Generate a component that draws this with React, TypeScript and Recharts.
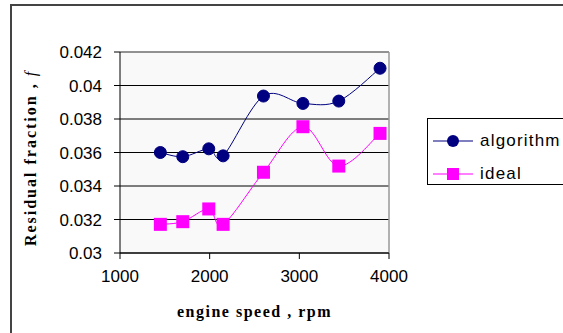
import React from "react";
import {
  LineChart,
  Line,
  XAxis,
  YAxis,
  CartesianGrid,
  ReferenceLine,
  Legend,
  Label,
} from "recharts";

// engine speed (rpm) and residual fraction
const rpm = [1450, 1700, 1990, 2150, 2600, 3040, 3440, 3900];
const algorithm = [0.036, 0.03575, 0.03622, 0.0358, 0.03937, 0.03893, 0.03907, 0.04103];
const ideal = [0.03171, 0.03187, 0.03263, 0.03171, 0.03482, 0.03754, 0.03519, 0.03714];

const xTicks = [1000, 2000, 3000, 4000];
const yTicks = [0.03, 0.032, 0.034, 0.036, 0.038, 0.04, 0.042];

const NAVY = "#000080";
const MAGENTA = "#ff00ff";
const TICK_FONT = "'Liberation Sans', Arial, sans-serif";
const LABEL_FONT = "'Liberation Serif', 'Times New Roman', serif";

const data = rpm.map((r, i) => ({ rpm: r, algorithm: algorithm[i], ideal: ideal[i] }));

// Excel-style smoothed line (Catmull-Rom through the points)
function excelSmooth(ctx: any) {
  let pts: number[][] = [];
  return {
    areaStart() {},
    areaEnd() {},
    lineStart() {
      pts = [];
    },
    point(x: number, y: number) {
      pts.push([+x, +y]);
    },
    lineEnd() {
      if (!pts.length) return;
      ctx.moveTo(pts[0][0], pts[0][1]);
      const k = 1 / 6;
      for (let i = 0; i < pts.length - 1; i++) {
        const p0 = pts[Math.max(i - 1, 0)];
        const p1 = pts[i];
        const p2 = pts[i + 1];
        const p3 = pts[Math.min(i + 2, pts.length - 1)];
        ctx.bezierCurveTo(
          p1[0] + (p2[0] - p0[0]) * k,
          p1[1] + (p2[1] - p0[1]) * k,
          p2[0] - (p3[0] - p1[0]) * k,
          p2[1] - (p3[1] - p1[1]) * k,
          p2[0],
          p2[1]
        );
      }
    },
  };
}

const CircleDot = (props: any) => {
  const { cx, cy, index } = props;
  if (cx == null || cy == null) return <g key={`c-${index}`} />;
  return <circle key={`c-${index}`} cx={cx} cy={cy} r={6} fill={NAVY} stroke={NAVY} />;
};

const SquareDot = (props: any) => {
  const { cx, cy, index } = props;
  if (cx == null || cy == null) return <g key={`s-${index}`} />;
  return <rect key={`s-${index}`} x={cx - 6.5} y={cy - 6.5} width={13} height={13} fill={MAGENTA} />;
};

function LegendBox() {
  const rows = [
    { name: "algorithm", color: NAVY, shape: "circle" },
    { name: "ideal", color: MAGENTA, shape: "square" },
  ];
  return (
    <div
      style={{
        width: 150,
        height: 67,
        border: "1px solid #000",
        background: "#fff",
        boxSizing: "border-box",
        paddingTop: 5,
      }}
    >
      {rows.map((r) => (
        <div key={r.name} style={{ display: "flex", alignItems: "center", height: 33 }}>
          <svg width={48} height={16} style={{ marginLeft: 5 }}>
            <line x1={0} y1={8} x2={40} y2={8} stroke={r.color} strokeWidth={1.2} />
            {r.shape === "circle" ? (
              <circle cx={20} cy={8} r={6} fill={r.color} />
            ) : (
              <rect x={14} y={2} width={12} height={12} fill={r.color} />
            )}
          </svg>
          <span
            style={{
              fontFamily: TICK_FONT,
              fontSize: 17,
              letterSpacing: 1.2,
              color: "#000",
              marginLeft: -1,
            }}
          >
            {r.name}
          </span>
        </div>
      ))}
    </div>
  );
}

export default function App() {
  return (
    <div
      style={{
        position: "absolute",
        left: 0,
        top: 0,
        width: 563,
        height: 333,
        overflow: "hidden",
        background: "#fff",
      }}
    >
      <div
        style={{
          position: "absolute",
          left: 10,
          top: 4,
          width: 600,
          height: 327,
          borderTop: "2px solid #444",
          borderLeft: "2px solid #444",
          borderBottom: "1px solid #ccc",
        }}
      />
      <div style={{ position: "absolute", left: 0, top: 0 }}>
        <LineChart
          width={563}
          height={333}
          data={data}
          margin={{ top: 52, right: 174, bottom: 0, left: 0 }}
        >
          <CartesianGrid
            vertical={false}
            stroke="#000"
            fill="#f9f9f9"
            horizontalValues={yTicks}
          />
          <XAxis
            dataKey="rpm"
            type="number"
            domain={[1000, 4000]}
            ticks={xTicks}
            height={80}
            stroke="#000"
            tickSize={6}
            tickMargin={11}
            tick={{ fill: "#000", fontFamily: TICK_FONT, fontSize: 17 }}
          >
            <Label
              value="engine speed , rpm"
              position="insideBottom"
              offset={16}
              style={{
                fontFamily: LABEL_FONT,
                fontWeight: "bold",
                fontSize: 16,
                letterSpacing: 1.5,
                fill: "#000",
              }}
            />
          </XAxis>
          <YAxis
            type="number"
            domain={[0.03, 0.042]}
            ticks={yTicks}
            width={120}
            stroke="#000"
            tickSize={6}
            tickMargin={12}
            interval={0}
            tickFormatter={(v: number) => String(Number(v.toFixed(3)))}
            tick={{ fill: "#000", fontFamily: TICK_FONT, fontSize: 17 }}
          >
            <Label
              content={() => (
                <text
                  x={36}
                  y={158}
                  transform="rotate(-90 36 158)"
                  textAnchor="middle"
                  style={{
                    fontFamily: LABEL_FONT,
                    fontWeight: "bold",
                    fontSize: 16,
                    letterSpacing: 2,
                    fill: "#000",
                  }}
                >
                  Residual fraction ,{" "}
                  <tspan fontStyle="italic" fontWeight="normal">
                    f
                  </tspan>
                </text>
              )}
            />
          </YAxis>
          <ReferenceLine y={0.042} stroke="#999" strokeWidth={1.5} />
          <ReferenceLine x={4000} stroke="#999" strokeWidth={1.5} />
          <Line
            dataKey="algorithm"
            type={excelSmooth as any}
            stroke={NAVY}
            strokeWidth={1}
            dot={CircleDot}
            isAnimationActive={false}
          />
          <Line
            dataKey="ideal"
            type={excelSmooth as any}
            stroke={MAGENTA}
            strokeWidth={1}
            dot={SquareDot}
            isAnimationActive={false}
          />
          <Legend
            layout="vertical"
            align="center"
            verticalAlign="middle"
            wrapperStyle={{ left: 427, top: 118, width: 150 }}
            content={() => <LegendBox />}
          />
        </LineChart>
      </div>
    </div>
  );
}
